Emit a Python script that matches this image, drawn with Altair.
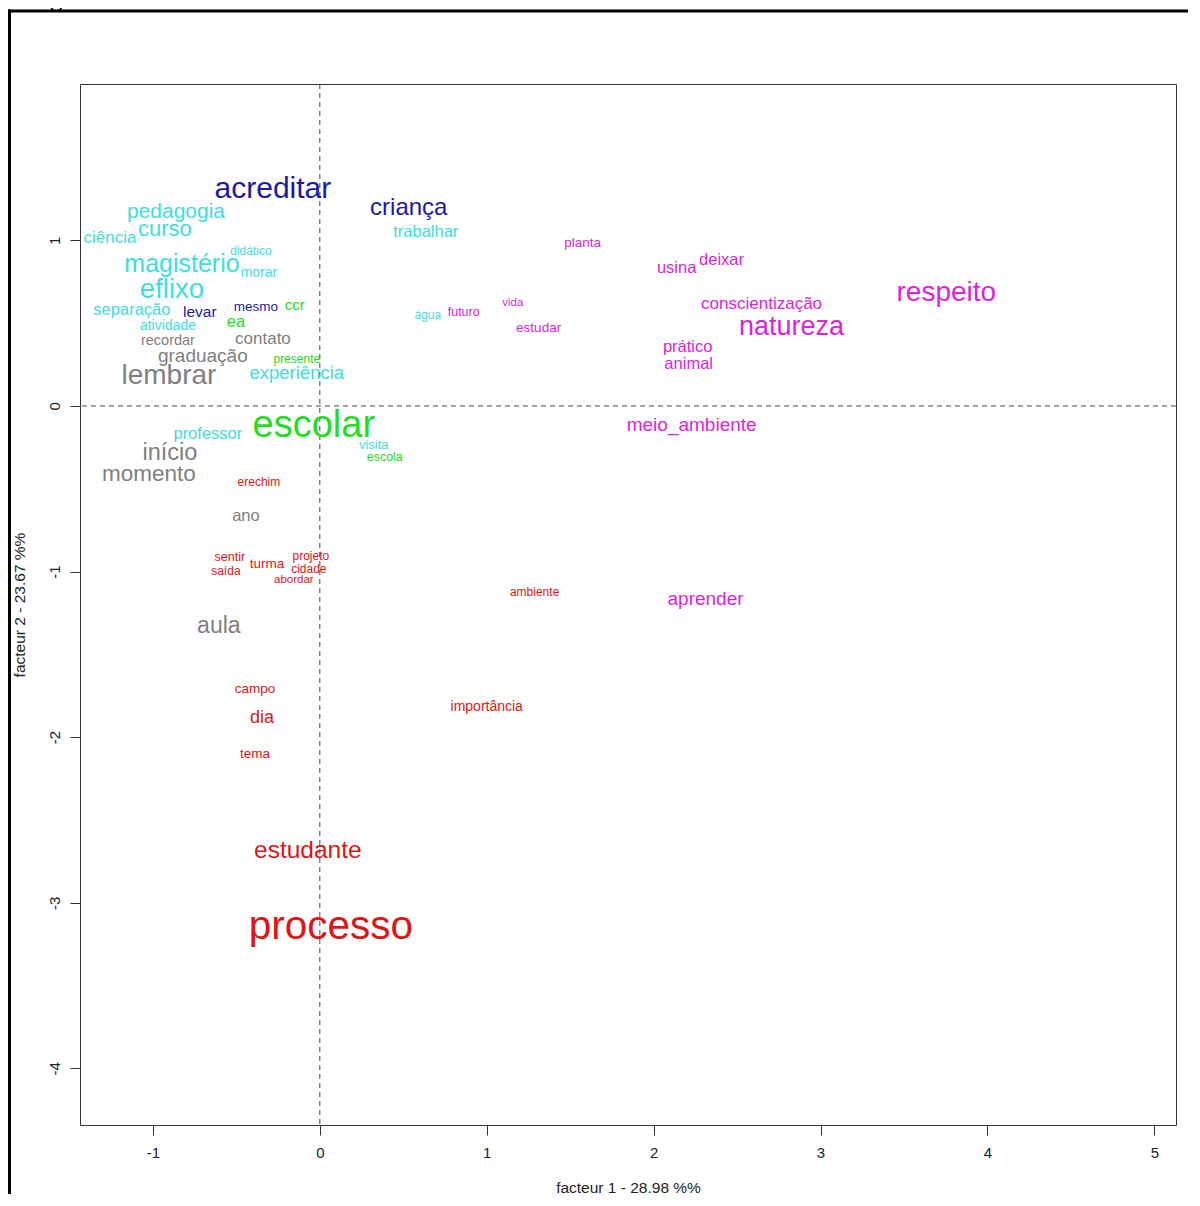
import altair as alt
import pandas as pd

# ---- data ----
words = ["acreditar", "criança", "pedagogia", "curso", "ciência", "trabalhar", "planta", "usina",
         "deixar", "conscientização", "respeito", "natureza", "prático", "animal", "meio_ambiente",
         "aprender", "vida", "estudar", "futuro", "água", "escolar", "magistério", "didático",
         "morar", "eflixo", "separação", "levar", "mesmo", "ccr", "ea", "atividade", "recordar",
         "contato", "graduação", "presente", "lembrar", "experiência", "professor", "início",
         "momento", "visita", "escola", "erechim", "ano", "sentir", "saída", "turma", "projeto",
         "cidade", "abordar", "ambiente", "aula", "campo", "dia", "tema", "importância",
         "estudante", "processo"]
f1 = [-0.281, 0.533, -0.862, -0.928, -1.257, 0.635, 1.575, 2.138,
      2.407, 2.647, 3.754, 2.826, 2.204, 2.210, 2.228,
      2.311, 1.156, 1.311, 0.862, 0.647, -0.036, -0.826, -0.413,
      -0.365, -0.886, -1.126, -0.719, -0.383, -0.150, -0.503, -0.910, -0.910,
      -0.341, -0.701, -0.138, -0.904, -0.138, -0.671, -0.898,
      -1.024, 0.323, 0.389, -0.365, -0.443, -0.539, -0.563, -0.317, -0.054,
      -0.066, -0.156, 1.287, -0.605, -0.389, -0.347, -0.389, 1.000,
      -0.072, 0.066]
f2 = [1.310, 1.196, 1.171, 1.069, 1.014, 1.051, 0.984, 0.833,
      0.882, 0.616, 0.682, 0.477, 0.356, 0.254, -0.115,
      -1.165, 0.622, 0.471, 0.568, 0.550, -0.121, 0.857, 0.936,
      0.803, 0.700, 0.580, 0.568, 0.598, 0.610, 0.507, 0.483, 0.393,
      0.405, 0.302, 0.284, 0.181, 0.199, -0.169, -0.284,
      -0.411, -0.236, -0.308, -0.459, -0.664, -0.912, -0.996, -0.954, -0.906,
      -0.984, -1.051, -1.123, -1.329, -1.709, -1.884, -2.101, -1.818,
      -2.687, -3.146]
classe = ["azul", "azul", "ciano", "ciano", "ciano", "ciano", "magenta", "magenta",
          "magenta", "magenta", "magenta", "magenta", "magenta", "magenta", "magenta",
          "magenta", "magenta", "magenta", "magenta", "ciano", "verde", "ciano", "ciano",
          "ciano", "ciano", "ciano", "azul", "azul", "verde", "verde", "ciano", "cinza",
          "cinza", "cinza", "verde", "cinza", "ciano", "ciano", "cinza",
          "cinza", "ciano", "verde", "vermelho", "cinza", "vermelho", "vermelho", "vermelho", "vermelho",
          "vermelho", "vermelho", "vermelho", "cinza", "vermelho", "vermelho", "vermelho", "vermelho",
          "vermelho", "vermelho"]
peso = [30, 24, 21, 22, 17, 16.5, 13.5, 16.5,
        16.5, 17, 28, 27, 16.5, 16.5, 19,
        19, 11.5, 13.5, 12.5, 12, 38, 25, 12,
        14, 27.5, 16.5, 15.5, 13.5, 15, 16.5, 14, 14.5,
        17, 19, 12, 28, 18.5, 16.5, 23.5,
        22.5, 13, 12.5, 12, 16.5, 12.5, 12, 13.5, 12,
        12, 11.5, 12, 23, 13.5, 18, 13.5, 14,
        24.5, 40.5]

class_names = ["vermelho", "cinza", "verde", "ciano", "azul", "magenta"]
class_colors = ["#e01414", "#808080", "#22dd22", "#3cdede", "#1a1aa6", "#dd22dd"]

x_ticks = [-1, 0, 1, 2, 3, 4, 5]
y_ticks = [-4, -3, -2, -1, 0, 1]
x_dom = [-1.437, 5.13]
y_dom = [-4.342, 1.944]

df = pd.DataFrame({"palavra": words, "f1": f1, "f2": f2, "classe": classe, "peso": peso})

W, H = 1096, 1041
PAD = {"left": 72, "top": 76, "right": 12, "bottom": 69}

xs = alt.Scale(domain=x_dom, nice=False, zero=False)
ys = alt.Scale(domain=y_dom, nice=False, zero=False)

xaxis = alt.Axis(values=x_ticks, title="facteur 1  - 28.98 %%", grid=False, domain=False,
                 tickSize=10, tickColor="#333", labelPadding=10, labelFontSize=15,
                 labelColor="#222", labelFont="Liberation Sans", titleFont="Liberation Sans",
                 titleFontSize=15.5, titleFontWeight="normal", titleColor="#222", titlePadding=20,
                 labelFlush=False, labelExpr="toString(datum.value)")
yaxis = alt.Axis(values=y_ticks, title="facteur 2  - 23.67 %%", grid=False, domain=False,
                 tickSize=10, tickColor="#333", labelPadding=8, labelFontSize=15,
                 labelColor="#222", labelAngle=270, labelAlign="center", labelBaseline="bottom",
                 labelFont="Liberation Sans", titleFont="Liberation Sans", titleFontSize=15.5,
                 titleFontWeight="normal", titleColor="#222", titlePadding=20,
                 labelFlush=False, labelExpr="toString(datum.value)")

base = alt.Chart(df)

pts = base.mark_text(font="Liberation Sans", align="center", baseline="middle").encode(
    x=alt.X("f1:Q", scale=xs, axis=xaxis),
    y=alt.Y("f2:Q", scale=ys, axis=yaxis),
    text="palavra:N",
    size=alt.Size("peso:Q", scale=None, legend=None),
    color=alt.Color("classe:N", scale=alt.Scale(domain=class_names, range=class_colors), legend=None),
)

zero_df = pd.DataFrame({"v": [0]})
vline = alt.Chart(zero_df).mark_rule(color="#444", strokeDash=[5, 4], strokeWidth=1).encode(
    x=alt.X("v:Q", scale=xs))
hline = alt.Chart(zero_df).mark_rule(color="#444", strokeDash=[5, 4], strokeWidth=1).encode(
    y=alt.Y("v:Q", scale=ys))

# outer thick frame (only top and left edges fall inside the picture)
right_edge = W + PAD["right"]
bottom_edge = H + PAD["bottom"]
top_line = alt.Chart(zero_df).mark_rule(color="#000", strokeWidth=3).encode(
    x=alt.value(-72), x2=alt.value(right_edge), y=alt.value(-73))
left_line = alt.Chart(zero_df).mark_rule(color="#000", strokeWidth=3).encode(
    x=alt.value(-70.5), y=alt.value(-74.5), y2=alt.value(bottom_edge))

cap = alt.Chart(pd.DataFrame({"t": ["categoria"]})).mark_text(
    font="Liberation Serif", fontSize=26, align="left", baseline="alphabetic", color="#000"
).encode(x=alt.value(-72), y=alt.value(-78), text="t:N")

chart = alt.layer(top_line, left_line, cap, vline, hline, pts).properties(
    width=W, height=H,
    autosize=alt.AutoSizeParams(type="none"),
    padding=PAD,
).configure_view(stroke="#333", strokeWidth=1)

chart.save("out.html", embed_options={"renderer": "svg", "actions": False})
